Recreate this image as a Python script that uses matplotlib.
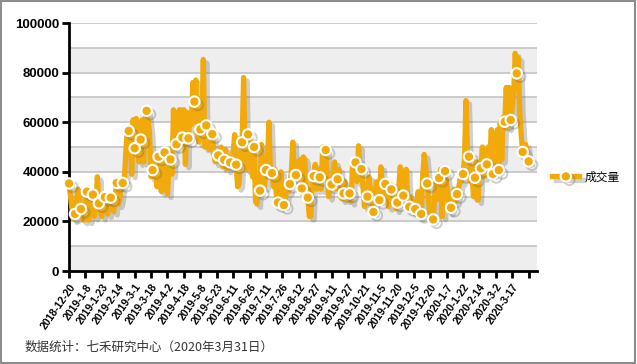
import matplotlib
matplotlib.use('Agg')
import matplotlib.pyplot as plt
import matplotlib.patheffects as pe
from matplotlib.patches import Rectangle

# daily volume (in thousands), trading days 2018-12-20 .. 2020-3-31
volume_k = [
    35.3, 30, 25, 21, 23.0, 28, 33, 27, 25.0, 21, 20.5, 31,
    32.0, 20.5, 24, 29, 30.8, 22, 26, 38, 27.3, 24, 22, 29,
    29.8, 24, 23, 30, 29.6, 25, 24, 31, 35.5, 27, 29, 34,
    35.5, 36, 47, 57, 56.5, 57, 39, 61, 49.5, 61.5, 55, 44,
    53.0, 61, 44, 61, 64.6, 61, 55, 38, 40.7, 38, 44, 34,
    46.1, 36, 32, 41, 47.8, 35, 31, 44, 45.0, 39, 65, 50,
    51.1, 64, 65, 65, 53.8, 65, 43, 64, 53.5, 62, 59, 76,
    68.3, 77, 55, 52, 57.1, 60, 85.3, 50, 58.7, 52, 49, 53,
    55.2, 48, 44, 47, 46.6, 45, 50, 42, 44.8, 49, 41, 46,
    43.8, 42, 48, 55, 42.9, 34, 35, 47, 51.9, 78, 47, 41,
    55.1, 45, 52, 38, 50.0, 28, 27, 38, 32.4, 51, 40, 34,
    40.7, 45, 60, 38, 39.5, 34, 41, 30, 27.6, 26, 40, 30,
    26.6, 29, 36, 32, 35.1, 40, 52, 37, 38.7, 44, 37, 45,
    33.3, 46, 45, 34, 29.6, 22, 22, 36, 38.3, 43, 33, 41,
    37.8, 33, 50, 40, 48.8, 38, 30, 37, 34.9, 40, 44, 33,
    37.0, 41, 30, 29, 31.3, 36, 29, 33, 31.3, 28, 43, 45,
    43.8, 36, 50.5, 38, 41.1, 34, 26, 35, 30.0, 38, 33, 27,
    23.8, 30, 36, 29, 28.6, 42, 35, 29, 35.1, 33, 26, 31,
    32.9, 30, 34, 25, 27.6, 34, 42, 29, 30.4, 33, 41, 28,
    25.9, 30, 24, 28, 25.0, 26, 32, 22, 23.0, 38, 47, 42,
    35.3, 28, 21, 20.5, 20.8, 30, 36, 29, 37.5, 41, 22, 34,
    40.3, 36, 31, 24, 25.5, 28, 33, 28, 31.0, 33, 37, 36,
    39.1, 45, 68.7, 48, 46.1, 36, 42, 30, 37.6, 44, 28.6, 38,
    41.4, 50, 38, 48, 43.0, 50, 45, 57, 39.1, 54, 48, 57,
    40.7, 60, 45, 62, 60.2, 74, 58, 74, 60.9, 66, 72, 87.8,
    79.7, 86, 65, 55, 48.0, 50, 51, 47, 44.2,
]
volume = [v * 1000 for v in volume_k]

tick_labels = ['2018-12-20', '2019-1-8', '2019-1-23', '2019-2-14', '2019-3-1',
               '2019-3-18', '2019-4-2', '2019-4-18', '2019-5-8', '2019-5-23',
               '2019-6-11', '2019-6-26', '2019-7-11', '2019-7-26', '2019-8-12',
               '2019-8-27', '2019-9-11', '2019-9-27', '2019-10-21', '2019-11-5',
               '2019-11-20', '2019-12-5', '2019-12-20', '2020-1-7', '2020-1-22',
               '2020-2-14', '2020-3-2', '2020-3-17', '']

orange = '#F2AA0A'

fig = plt.figure(figsize=(6.37, 3.64), dpi=100)
fig.patches.append(Rectangle((0.002, 0.003), 0.995, 0.994, transform=fig.transFigure,
                             fill=False, edgecolor='#8c8c8c', linewidth=1.5))

ax = fig.add_axes([69 / 637, 1 - 271 / 364, 468 / 637, 248 / 364])

# alternating bands and grid
for lo in range(0, 100000, 20000):
    ax.axhspan(lo, lo + 10000, color='#eeeeee', zorder=0, lw=0)
for g in range(10000, 100001, 10000):
    ax.axhline(g, color='#c4c4c4', lw=1.2, zorder=1)

x = list(range(len(volume)))
shadow = [pe.SimpleLineShadow(offset=(2.5, -2.5), shadow_color='#666666', alpha=0.3),
          pe.Normal()]
ax.plot(x, volume, color=orange, lw=3.8, solid_joinstyle='round',
        marker='o', markevery=4, markersize=7.5, markerfacecolor=orange,
        markeredgecolor='white', markeredgewidth=1.5, label='成交量',
        clip_on=False, zorder=3, path_effects=shadow)

ax.set_xlim(0, 313.6)
ax.set_ylim(0, 100000)
ax.set_yticks(range(0, 100001, 20000))
ax.set_yticklabels([str(v) for v in range(0, 100001, 20000)],
                   fontfamily='Liberation Sans', fontweight='bold', fontsize=9.5)
ax.set_xticks(range(0, len(volume), 11))
ax.set_xticklabels(tick_labels, rotation=55, ha='right', rotation_mode='anchor',
                   fontfamily='Liberation Sans', fontweight='bold', fontsize=7.5)
ax.tick_params(axis='both', length=5, width=2, color='black', pad=2)
ax.tick_params(axis='x', pad=3)

for s in ['top', 'right']:
    ax.spines[s].set_visible(False)
for s in ['left', 'bottom']:
    ax.spines[s].set_linewidth(2)
    ax.spines[s].set_zorder(2)

leg = ax.legend(loc='center left', bbox_to_anchor=(544 / 637, 1 - 177 / 364),
                bbox_transform=fig.transFigure, frameon=False, handlelength=2.3,
                handletextpad=0.4, borderpad=0.2,
                prop={'family': ['Noto Sans CJK SC', 'DejaVu Sans'], 'size': 8.5})

fig.text(25 / 637, 1 - 347 / 364, '数据统计：七禾研究中心（2020年3月31日）',
         fontfamily=['Noto Sans CJK SC', 'DejaVu Sans'], fontsize=9, color='#333333',
         va='center')

plt.savefig('out.png', dpi=100)
